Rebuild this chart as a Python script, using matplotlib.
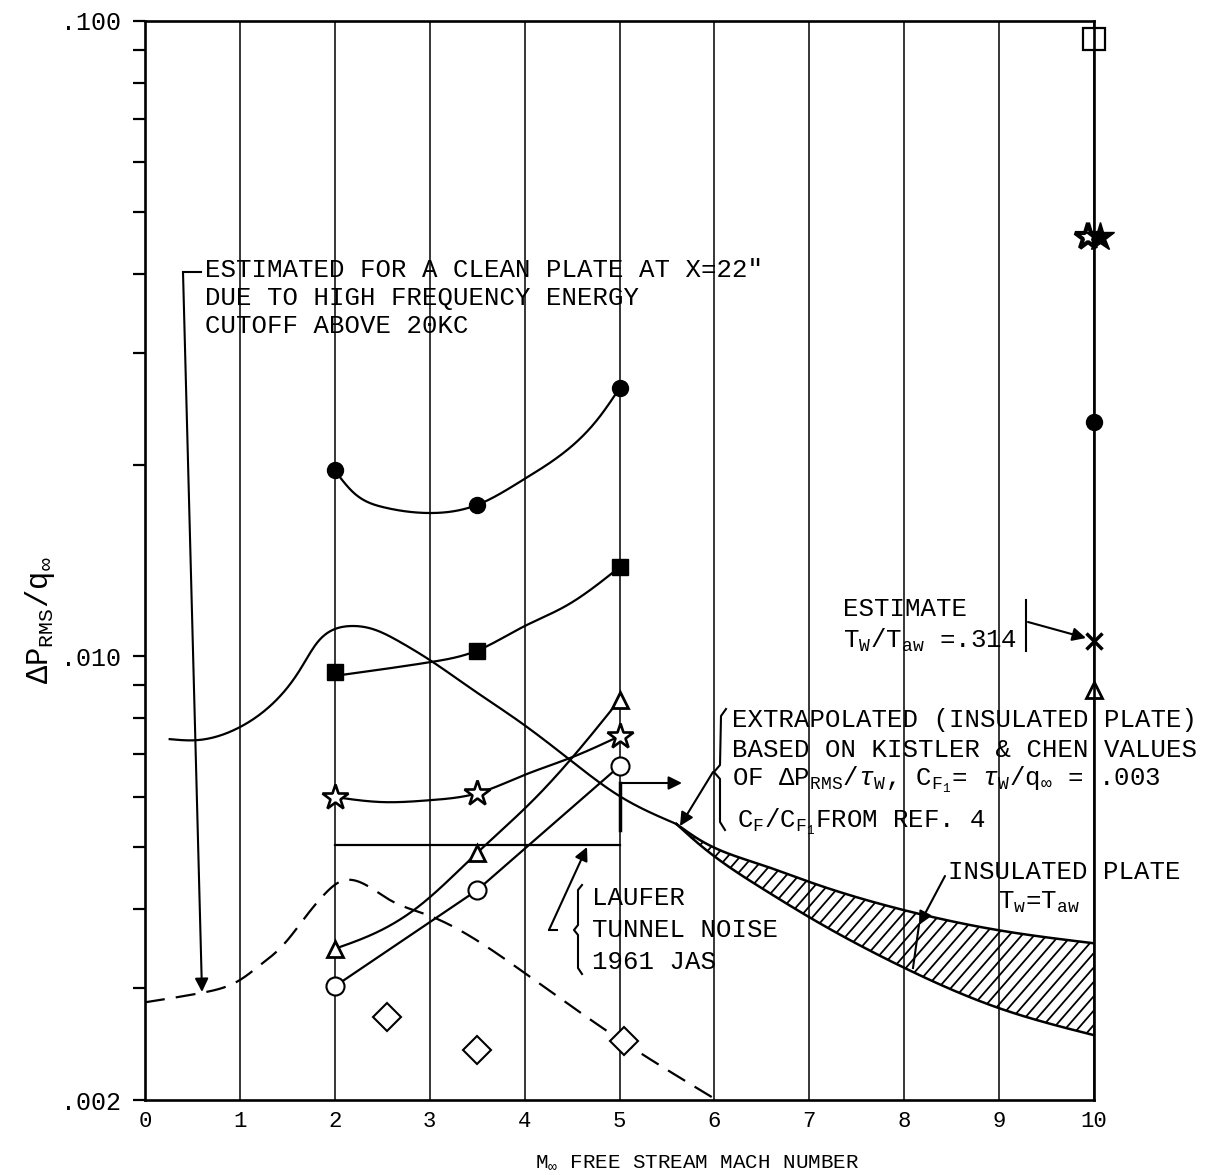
import numpy as np
import matplotlib
matplotlib.use("Agg")
import matplotlib.pyplot as plt
from matplotlib.collections import LineCollection
from matplotlib.lines import Line2D
from matplotlib.transforms import offset_copy
from matplotlib.ticker import FixedLocator, FixedFormatter, NullFormatter

# ---------------- data ----------------
mach_pts = [2.0, 3.5, 5.0]
filled_circle = [0.0196, 0.0173, 0.0264]
filled_square = [0.00944, 0.0102, 0.0138]
open_star = [0.0060, 0.00608, 0.00748]
open_triangle = [0.00346, 0.00490, 0.00853]
open_circle = [0.00302, 0.00428, 0.00671]

diamond_mach = [2.55, 3.5, 5.05]
diamond_vals = [0.0027, 0.0024, 0.00248]

m10 = [10.0]
m10_open_square = [0.0937]
m10_filled_star = [0.0457]
m10_filled_circle = [0.0234]
m10_cross = [0.01056]
m10_triangle = [0.00884]

fc_curve_x = [2.0, 2.19, 2.51, 2.98, 3.5, 3.98, 4.45, 4.79, 5.0]
fc_curve_y = [0.0196, 0.01813, 0.01716, 0.0168, 0.0173, 0.01893, 0.02112, 0.02381, 0.0264]

fs_curve_x = [2.05, 3.0, 3.5, 3.98, 4.45, 5.0]
fs_curve_y = [0.00933, 0.00978, 0.0102, 0.01111, 0.01203, 0.0138]

star_curve_x = [2.0, 2.5, 3.0, 3.5, 4.0, 4.5, 5.0]
star_curve_y = [0.0060, 0.00589, 0.00593, 0.00608, 0.00650, 0.00693, 0.00748]

tri_curve_x = [2.0, 2.42, 2.87, 3.5, 4.09, 4.48, 5.0]
tri_curve_y = [0.00346, 0.00366, 0.00402, 0.0049, 0.00593, 0.00686, 0.00853]

hump_x = [0.26, 0.53, 1.0, 1.35, 1.63, 1.81, 2.0, 2.16, 2.40, 2.69, 3.0, 3.46, 3.97, 4.48, 5.0, 5.6]
hump_y = [0.0074, 0.00737, 0.00773, 0.00843, 0.0095, 0.01048, 0.01103, 0.01115,
          0.01103, 0.01052, 0.00986, 0.00884, 0.00784, 0.00686, 0.00602, 0.00544]

band_x = [5.6, 5.85, 6.5, 7.0, 8.0, 9.0, 10.0]
band_upper = [0.00544, 0.00513, 0.00469, 0.00441, 0.00398, 0.0037, 0.00353]
band_lower = [0.00544, 0.00504, 0.00431, 0.00388, 0.00323, 0.00279, 0.00253]

dash_x = [0.0, 0.6, 1.0, 1.2, 1.45, 1.7, 1.9, 2.05, 2.58, 2.98, 4.0, 5.02, 6.0]
dash_y = [0.00285, 0.00295, 0.00309, 0.00325, 0.00350, 0.00390, 0.00423, 0.00441,
          0.00413, 0.00391, 0.00317, 0.00248, 0.00201]

laufer_x = [2.0, 5.0]
laufer_y = [0.00504, 0.00504]

x_ticks = list(range(0, 11))
y_major = [0.002, 0.01, 0.1]
y_major_labels = [".002", ".010", ".100"]


# ---------------- helpers ----------------
def smooth(x, y, n=400):
    """Natural cubic spline through the read points, in (x, log y) space."""
    x = np.asarray(x, float)
    ly = np.log10(np.asarray(y, float))
    N = len(x)
    h = np.diff(x)
    A = np.zeros((N, N))
    b = np.zeros(N)
    A[0, 0] = A[-1, -1] = 1.0
    for i in range(1, N - 1):
        A[i, i - 1] = h[i - 1]
        A[i, i] = 2 * (h[i - 1] + h[i])
        A[i, i + 1] = h[i]
        b[i] = 3 * ((ly[i + 1] - ly[i]) / h[i] - (ly[i] - ly[i - 1]) / h[i - 1])
    c = np.linalg.solve(A, b)
    bc = (ly[1:] - ly[:-1]) / h - h * (2 * c[:-1] + c[1:]) / 3
    d = (c[1:] - c[:-1]) / (3 * h)
    xs = np.linspace(x[0], x[-1], n)
    idx = np.clip(np.searchsorted(x, xs) - 1, 0, N - 2)
    dx = xs - x[idx]
    ys = ly[idx] + bc[idx] * dx + c[idx] * dx ** 2 + d[idx] * dx ** 3
    return xs, 10 ** ys


W, H = 1208, 1175


def F(px, py):
    return (px / W, 1 - py / H)


FONT = "Liberation Mono"
plt.rcParams["font.family"] = [FONT, "DejaVu Sans"]
plt.rcParams["mathtext.fontset"] = "custom"
plt.rcParams["mathtext.rm"] = FONT
plt.rcParams["mathtext.it"] = FONT + ":italic"
plt.rcParams["mathtext.bf"] = FONT + ":bold"
plt.rcParams["mathtext.fallback"] = "stixsans"

fig = plt.figure(figsize=(W / 100, H / 100), dpi=100)
ax = fig.add_axes([145 / W, 1 - 1100 / H, (1094 - 145) / W, (1100 - 21) / H])
ax.set_xlim(0, 10)
ax.set_yscale("log")
ax.set_ylim(0.002, 0.1)

for s in ax.spines.values():
    s.set_linewidth(1.9)
    s.set_color("black")

ax.xaxis.set_major_locator(FixedLocator(x_ticks))
ax.tick_params(axis="x", length=0, pad=8, labelsize=16)
ax.xaxis.grid(True, color="black", linewidth=1.1)
ax.set_axisbelow(True)

ax.yaxis.set_major_locator(FixedLocator(y_major))
ax.yaxis.set_major_formatter(FixedFormatter(y_major_labels))
minor_vals = [m * 10.0 ** e for e in (-3, -2) for m in range(2, 10)]
ax.yaxis.set_minor_locator(FixedLocator([v for v in minor_vals if 0.002 < v < 0.1]))
ax.yaxis.set_minor_formatter(NullFormatter())
ax.tick_params(axis="y", which="both", direction="out", length=9, width=1.6,
               labelsize=18, pad=8)

lw = 1.6
# curves
ax.plot(*smooth(fc_curve_x, fc_curve_y), color="k", lw=lw)
ax.plot(*smooth(fs_curve_x, fs_curve_y), color="k", lw=lw)
ax.plot(*smooth(star_curve_x, star_curve_y), color="k", lw=lw)
ax.plot(*smooth(tri_curve_x, tri_curve_y), color="k", lw=lw)
ax.plot(mach_pts, open_circle, color="k", lw=lw)
ax.plot(*smooth(hump_x, hump_y), color="k", lw=lw)
ax.plot(*smooth(dash_x, dash_y), color="k", lw=1.6, dashes=(9, 5))
ax.plot(laufer_x, laufer_y, color="k", lw=lw)

# hatched band
bx, bu = smooth(band_x, band_upper)
_, bl = smooth(band_x, band_lower)
ax.plot(bx, bu, color="k", lw=1.8)
ax.plot(bx, bl, color="k", lw=1.8)
poly = ax.fill_between(bx, bl, bu, facecolor="none", edgecolor="none")
AW, AH = 1094 - 145, 1100 - 21
spacing = 12.5
slope = 1.15
segs = []
for c in np.arange(-AH, AW + spacing, spacing):
    segs.append([(c / AW, 0.0), ((c + AH / slope) / AW, 1.0)])
lc = LineCollection(segs, transform=ax.transAxes, colors="k", linewidths=1.3)
lc.set_clip_path(poly.get_paths()[0], ax.transData)
ax.add_collection(lc, autolim=False)

# markers
ax.plot(mach_pts, filled_circle, "o", color="k", ms=11.5, ls="none")
ax.plot(mach_pts, filled_square, "s", color="k", ms=12, ls="none")
ax.plot(mach_pts, open_star, "*", mfc="white", mec="k", mew=1.9, ms=19, ls="none")
ax.plot(mach_pts, open_triangle, "^", mfc="white", mec="k", mew=2.0, ms=11.5, ls="none")
ax.plot(mach_pts, open_circle, "o", mfc="white", mec="k", mew=1.5, ms=13, ls="none")
ax.plot(diamond_mach, diamond_vals, "D", mfc="white", mec="k", mew=1.5, ms=14, ls="none")

ax.plot(m10, m10_open_square, "s", mfc="white", mec="k", mew=1.6, ms=15.5, ls="none", clip_on=False)
ax.plot(m10, m10_filled_star, "*", mfc="white", mec="k", mew=3.0, ms=20, ls="none", clip_on=False,
        transform=offset_copy(ax.transData, fig=fig, x=-6, y=0, units="dots"))
ax.plot(m10, m10_filled_star, "*", color="k", ms=21, ls="none", clip_on=False,
        transform=offset_copy(ax.transData, fig=fig, x=6, y=0, units="dots"))
ax.plot(m10, m10_filled_circle, "o", color="k", ms=11.5, ls="none", clip_on=False)
ax.plot(m10, m10_cross, "x", color="k", mew=2.5, ms=11, ls="none", clip_on=False)
ax.plot(m10, m10_triangle, "^", mfc="white", mec="k", mew=2.0, ms=11.5, ls="none", clip_on=False)

# ---------------- annotations ----------------
TS = 18.5


def txt(px, py, s, size=TS, **kw):
    fig.text(*F(px, py), s, ha="left", va="center", fontsize=size, **kw)


def fline(pts, lw=1.5):
    xs = [F(*p)[0] for p in pts]
    ys = [F(*p)[1] for p in pts]
    fig.add_artist(Line2D(xs, ys, transform=fig.transFigure, color="k", lw=lw))


def farrow(p_from, p_to, lw=1.5):
    ax.annotate("", xy=F(*p_to), xytext=F(*p_from), xycoords="figure fraction",
                textcoords="figure fraction",
                arrowprops=dict(arrowstyle="-|>", color="k", lw=lw, mutation_scale=20,
                                shrinkA=0, shrinkB=0))


# clean plate note
txt(205, 270, 'ESTIMATED FOR A CLEAN PLATE AT X=22"')
txt(205, 298, "DUE TO HIGH FREQUENCY ENERGY")
txt(205, 326, "CUTOFF ABOVE 20KC")
fline([(201, 272), (183, 272)])
farrow((183, 272), (202, 992))

# estimate at M=10
txt(843, 609, "ESTIMATE")
txt(843, 640, r"T$_\mathrm{W}$/T$_\mathrm{aw}$ =.314")
fline([(1026, 600), (1026, 651)])
farrow((1028, 622), (1086, 638))

# extrapolated note
txt(732, 720, "EXTRAPOLATED (INSULATED PLATE)")
txt(732, 750, "BASED ON KISTLER & CHEN VALUES")
txt(732, 780, r"OF $\Delta$P$_\mathrm{RMS}$/$\tau_\mathrm{W}$, C$_{\mathrm{F}_1}$= $\tau_\mathrm{W}$/q$_\infty$ = .003")
txt(737, 822, r"C$_\mathrm{F}$/C$_{\mathrm{F}_1}$FROM REF. 4")
fline([(726, 709), (721, 716), (720, 765), (714, 772), (720, 779), (720, 822), (725, 830)])
farrow((713, 772), (680, 826))
farrow((620, 783), (682, 783))
fline([(620, 783), (620, 830)], lw=2.5)

# Laufer note
txt(592, 898, "LAUFER")
txt(592, 930, "TUNNEL NOISE")
txt(592, 962, "1961 JAS")
fline([(582, 885), (578, 890), (578, 925), (574, 930), (578, 935), (578, 968), (582, 974)])
fline([(557, 930), (549, 930)])
farrow((549, 930), (587, 847))

# insulated plate note
txt(948, 872, "INSULATED PLATE")
txt(998, 902, r"T$_\mathrm{w}$=T$_\mathrm{aw}$")
farrow((945, 876), (919, 925))
fline([(919, 925), (913, 968)])

# axis labels
fig.text(*F(697, 1162), r"M$_\infty$ FREE STREAM MACH NUMBER", ha="center", va="center",
         fontsize=15)
fig.text(*F(40, 620), r"$\Delta$P$_\mathrm{RMS}$/q$_\infty$", ha="center", va="center",
         rotation=90, fontsize=22)

fig.savefig("out.png", dpi=100)
